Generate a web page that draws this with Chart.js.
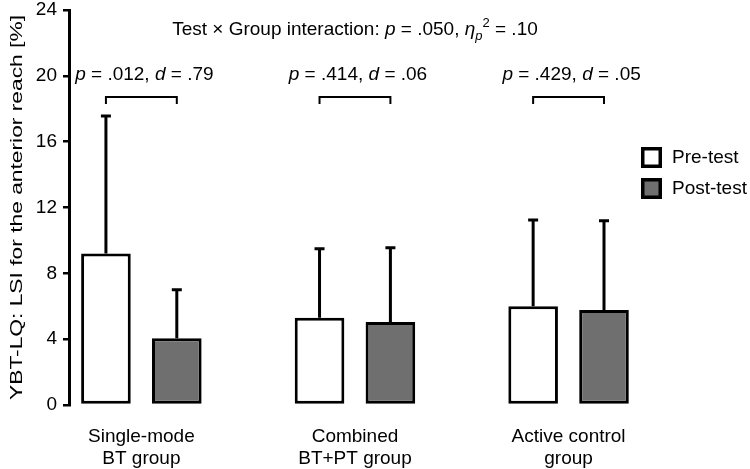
<!DOCTYPE html>
<html>
<head>
<meta charset="utf-8">
<script src="https://cdn.jsdelivr.net/npm/chart.js@4.4.0/dist/chart.umd.min.js"></script>
<style>
    html, body { margin: 0; padding: 0; background: #fff; }
    #wrap { width: 750px; height: 469px; }
</style>
</head>
<body>
<div id="wrap"><canvas id="myChart"></canvas></div>
<script>
const groups = [['Single-mode', 'BT group'], ['Combined', 'BT+PT group'], ['Active control', 'group']];
const preTest = [9.2, 5.3, 6.0];
const postTest = [4.05, 5.05, 5.77];
const preSd = [8.45, 4.28, 5.33];
const postSd = [3.04, 4.6, 5.51];
const pValues = ['.012', '.414', '.429'];
const dValues = ['.79', '.06', '.05'];
const yTicks = [0, 4, 8, 12, 16, 20, 24];
const seriesNames = ['Pre-test', 'Post-test'];

const FONT = "'Liberation Sans', Arial, sans-serif";
const GREY = '#6f6f6f';


// draws a row of text pieces, each with its own style
function drawPieces(ctx, pieces, cx, baseline) {
    let total = 0;
    pieces.forEach(p => {
        ctx.font = p.font;
        p.w = ctx.measureText(p.text).width;
        total += p.w;
    });
    let x = cx - total / 2;
    ctx.textAlign = 'left';
    ctx.textBaseline = 'alphabetic';
    pieces.forEach(p => {
        ctx.font = p.font;
        ctx.fillText(p.text, x, baseline + (p.dy || 0));
        x += p.w;
    });
}


const errorBars = {
    id: 'errorBars',
    afterDatasetsDraw(chart) {
        const ctx = chart.ctx;
        const y = chart.scales.y;
        const sds = [preSd, postSd];
        const vals = [preTest, postTest];
        ctx.save();
        ctx.strokeStyle = '#000';
        ctx.lineWidth = 3;
        ctx.lineCap = 'butt';
        chart.data.datasets.forEach((ds, d) => {
            chart.getDatasetMeta(d).data.forEach((bar, i) => {
                const top = y.getPixelForValue(vals[d][i] + sds[d][i]);
                ctx.beginPath();
                ctx.moveTo(bar.x, bar.y);
                ctx.lineTo(bar.x, top);
                ctx.moveTo(bar.x - 5, top + 1.5);
                ctx.lineTo(bar.x + 5, top + 1.5);
                ctx.stroke();
            });
        });
        ctx.restore();
    }
};


const annotations = {
    id: 'annotations',
    afterDraw(chart) {
        const ctx = chart.ctx;
        const area = chart.chartArea;
        const pre = chart.getDatasetMeta(0).data;
        const post = chart.getDatasetMeta(1).data;
        const norm = `19px ${FONT}`;
        const ital = `italic 19px ${FONT}`;
        ctx.save();
        ctx.fillStyle = '#000';

        // interaction line, centred over the middle group
        drawPieces(ctx, [
            { text: 'Test \u00d7 Group interaction: ', font: norm },
            { text: 'p', font: ital },
            { text: ' = .050, ', font: norm },
            { text: '\u03b7', font: ital },
            { text: 'p', font: `italic 13px ${FONT}`, dy: 5 },
            { text: '2', font: `13px ${FONT}`, dy: -8 },
            { text: ' = .10', font: norm }
        ], (pre[1].x + post[1].x) / 2, 35);

        // pairwise comparisons with brackets
        groups.forEach((g, i) => {
            const x1 = pre[i].x;
            const x2 = post[i].x;
            drawPieces(ctx, [
                { text: 'p', font: ital },
                { text: ` = ${pValues[i]}, `, font: norm },
                { text: 'd', font: ital },
                { text: ` = ${dValues[i]}`, font: norm }
            ], (x1 + x2) / 2 + 3, 80);
            ctx.strokeStyle = '#000';
            ctx.lineWidth = 2;
            ctx.beginPath();
            ctx.moveTo(x1, 104);
            ctx.lineTo(x1, 97);
            ctx.lineTo(x2, 97);
            ctx.lineTo(x2, 104);
            ctx.stroke();
        });

        // y axis title, stretched along its length like the original
        ctx.font = `17px ${FONT}`;
        const title = 'YBT-LQ: LSI for the anterior reach [%]';
        const w = ctx.measureText(title).width;
        ctx.translate(17, (area.top + area.bottom) / 2);
        ctx.rotate(-Math.PI / 2);
        ctx.scale(385 / w, 1);
        ctx.textAlign = 'center';
        ctx.textBaseline = 'middle';
        ctx.fillText(title, 0, 0);
        ctx.restore();

        // legend
        ctx.save();
        chart.data.datasets.forEach((ds, d) => {
            const top = 147 + d * 31;
            ctx.fillStyle = ds.backgroundColor;
            ctx.fillRect(641, top, 21, 21);
            ctx.strokeStyle = '#000';
            ctx.lineWidth = 3.5;
            ctx.strokeRect(642.75, top + 1.75, 17.5, 17.5);
            ctx.fillStyle = '#000';
            ctx.font = `19px ${FONT}`;
            ctx.textAlign = 'left';
            ctx.textBaseline = 'middle';
            ctx.fillText(seriesNames[d], 672, top + 11);
        });
        ctx.restore();
    }
};


const ctx = document.getElementById('myChart');

new Chart(ctx, {
    type: 'bar',
    data: {
        datasets: [{
            label: seriesNames[0],
            data: preTest.map((v, i) => ({ x: i, y: v })),
            backgroundColor: '#ffffff'
        }, {
            label: seriesNames[1],
            data: postTest.map((v, i) => ({ x: i, y: v })),
            backgroundColor: GREY
        }]
    },
    options: {
        responsive: true,
        maintainAspectRatio: false,
        animation: false,
        layout: { padding: { top: 0, right: 115, left: 0, bottom: 0 } },
        datasets: {
            bar: {
                borderColor: '#000',
                borderWidth: 3,
                borderSkipped: false,
                categoryPercentage: 0.6636,
                barPercentage: 0.7
            }
        },
        scales: {
            x: {
                type: 'linear',
                min: -0.3388,
                max: 2.311,
                offset: false,
                grid: { display: false, drawTicks: false },
                border: { display: false },
                afterBuildTicks: (scale) => {
                    scale.ticks = groups.map((g, i) => ({ value: i }));
                },
                afterFit: (scale) => {
                    scale.height = 64;
                    scale.paddingLeft = 0;
                    scale.paddingRight = 0;
                },
                ticks: {
                    autoSkip: false,
                    maxRotation: 0,
                    padding: 20,
                    color: '#000',
                    font: { family: FONT, size: 19 },
                    callback: (v) => groups[v]
                }
            },
            y: {
                min: 0,
                max: 24,
                afterBuildTicks: (scale) => {
                    scale.ticks = yTicks.map(v => ({ value: v }));
                },
                afterFit: (scale) => {
                    scale.width = 69;
                    scale.paddingTop = 10;
                    scale.paddingBottom = 0;
                },
                grid: {
                    drawOnChartArea: false,
                    drawTicks: true,
                    tickLength: 6,
                    color: '#000',
                    lineWidth: 2.5
                },
                border: { color: '#000', width: 3 },
                ticks: {
                    padding: 6,
                    color: '#000',
                    font: { family: FONT, size: 19 }
                }
            }
        },
        plugins: {
            legend: { display: false },
            tooltip: { enabled: false }
        }
    },
    plugins: [errorBars, annotations]
});
</script>
</body>
</html>
